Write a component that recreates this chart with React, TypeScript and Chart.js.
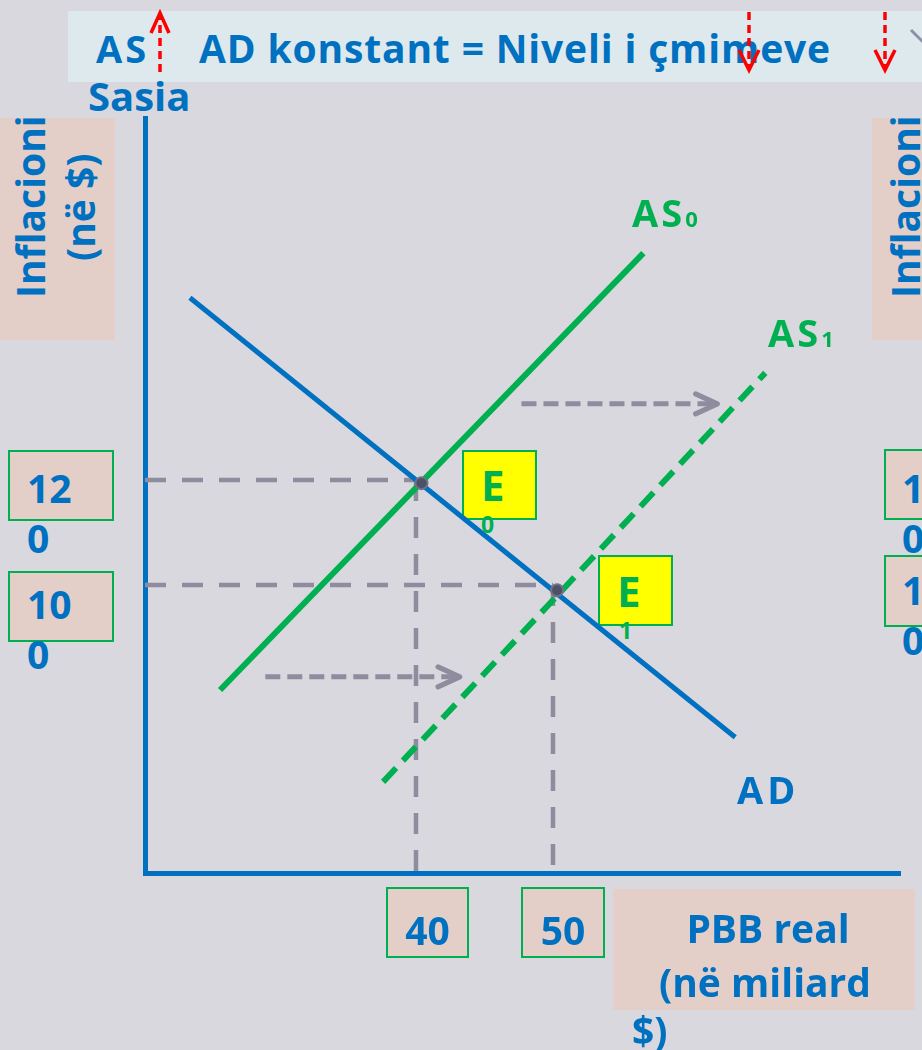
import React, { useEffect, useRef } from "react";
import { Chart, registerables } from "chart.js";

Chart.register(...registerables);

// ---- Data (price level vs. real GDP) ----
const EQ_GDP = [40, 50]; // equilibrium real GDP, billion $
const EQ_PRICE = [120, 100]; // equilibrium price level
const EQ_POINT_X = [40.4, 50.3];
const EQ_POINT_Y = [119.4, 99.0];
const AD_X = [23.5, 63.3];
const AD_Y = [154.7, 71.0];
const AS0_X = [25.7, 56.6];
const AS0_Y = [80.0, 163.2];
const AS1_X = [37.6, 65.5];
const AS1_Y = [62.5, 140.4];
const SHIFT_UPPER_X = [47.7, 62.0];
const SHIFT_UPPER_Y = [134.5, 134.5];
const SHIFT_LOWER_X = [29.0, 43.2];
const SHIFT_LOWER_Y = [82.5, 82.5];
const X_MIN = 20.22;
const X_MAX = 75.33;
const Y_MIN = 45.14;
const Y_MAX = 188.95;
const X_TICK_LABELS = ["40", "50"];
const Y_TICK_LABELS = ["120", "100"];

const BLUE = "#0070c0";
const GREEN = "#00b050";
const GUIDE = "#8f8c9f";
const PINK = "#e3cfc8";
const FONT = "'Open Sans', Lato, sans-serif";

const zip = (xs: number[], ys: number[]) => xs.map((x, i) => ({ x, y: ys[i] }));

const arrowPlugin = {
  id: "arrowHeads",
  afterDatasetsDraw(chart: any) {
    const ctx = chart.ctx;
    chart.data.datasets.forEach((ds: any, i: number) => {
      if (!ds.arrowHead) return;
      const pts = chart.getDatasetMeta(i).data;
      const a = pts[pts.length - 2];
      const b = pts[pts.length - 1];
      const ang = Math.atan2(b.y - a.y, b.x - a.x);
      const L = 24;
      const th = 0.43;
      ctx.save();
      ctx.strokeStyle = ds.borderColor;
      ctx.lineWidth = 5;
      ctx.lineCap = "round";
      ctx.lineJoin = "round";
      ctx.setLineDash([]);
      ctx.beginPath();
      ctx.moveTo(b.x - L * Math.cos(ang - th), b.y - L * Math.sin(ang - th));
      ctx.lineTo(b.x, b.y);
      ctx.lineTo(b.x - L * Math.cos(ang + th), b.y - L * Math.sin(ang + th));
      ctx.stroke();
      ctx.restore();
    });
  },
};

const lineDs = (data: any[], color: string, width: number, dash: number[], order: number, extra: any = {}) => ({
  data,
  borderColor: color,
  borderWidth: width,
  borderDash: dash,
  pointRadius: 0,
  fill: false,
  tension: 0,
  clip: false,
  order,
  ...extra,
});

function EconChart() {
  const ref = useRef<HTMLCanvasElement | null>(null);
  useEffect(() => {
    if (!ref.current) return;
    const chart = new Chart(ref.current, {
      type: "line",
      data: {
        datasets: [
          {
            data: zip(EQ_POINT_X, EQ_POINT_Y),
            showLine: false,
            pointRadius: 6,
            pointBackgroundColor: "#4e5166",
            pointBorderColor: "#6f7286",
            pointBorderWidth: 2,
            clip: false,
            order: 0,
          } as any,
          lineDs(zip(AD_X, AD_Y), BLUE, 5, [], 1),
          lineDs(zip(AS0_X, AS0_Y), GREEN, 6, [], 1),
          lineDs(zip(AS1_X, AS1_Y), GREEN, 6, [19, 10], 1),
          lineDs([{ x: X_MIN, y: EQ_PRICE[0] }, { x: EQ_GDP[0], y: EQ_PRICE[0] }], GUIDE, 4.5, [21, 16], 2),
          lineDs([{ x: EQ_GDP[0], y: EQ_PRICE[0] }, { x: EQ_GDP[0], y: Y_MIN }], GUIDE, 4.5, [21, 16], 2),
          lineDs([{ x: X_MIN, y: EQ_PRICE[1] }, { x: EQ_GDP[1], y: EQ_PRICE[1] }], GUIDE, 4.5, [21, 16], 2),
          lineDs([{ x: EQ_GDP[1], y: EQ_PRICE[1] }, { x: EQ_GDP[1], y: Y_MIN }], GUIDE, 4.5, [21, 16], 2),
          lineDs(zip(SHIFT_UPPER_X, SHIFT_UPPER_Y), GUIDE, 5, [15, 7], 2, { arrowHead: true }),
          lineDs(zip(SHIFT_LOWER_X, SHIFT_LOWER_Y), GUIDE, 5, [15, 7], 2, { arrowHead: true }),
        ],
      },
      options: {
        animation: false,
        responsive: false,
        maintainAspectRatio: false,
        events: [],
        layout: { padding: { left: 145, top: 118, right: 22, bottom: 177 } },
        plugins: { legend: { display: false }, tooltip: { enabled: false } },
        scales: {
          x: {
            type: "linear",
            min: X_MIN,
            max: X_MAX,
            grid: { display: false, drawTicks: false },
            ticks: { display: false },
            border: { display: true, color: BLUE, width: 5 },
            afterFit: (s: any) => {
              s.height = 0;
            },
          },
          y: {
            type: "linear",
            min: Y_MIN,
            max: Y_MAX,
            grid: { display: false, drawTicks: false },
            ticks: { display: false },
            border: { display: true, color: BLUE, width: 5 },
            afterFit: (s: any) => {
              s.width = 0;
            },
          },
        },
      } as any,
      plugins: [arrowPlugin],
    });
    return () => chart.destroy();
  }, []);
  return (
    <canvas
      ref={ref}
      width={922}
      height={1050}
      style={{ position: "absolute", left: 0, top: 0, width: 922, height: 1050 }}
    />
  );
}

const abs = (o: React.CSSProperties): React.CSSProperties => ({ position: "absolute", ...o });
const txt = (fs: number, color: string, o: React.CSSProperties): React.CSSProperties =>
  abs({ fontSize: fs, lineHeight: `${fs}px`, color, fontWeight: 700, whiteSpace: "nowrap", ...o });

function TickBox({ left, top, w, h }: { left: number; top: number; w: number; h: number }) {
  return <div style={abs({ left, top, width: w, height: h, background: PINK, border: `2px solid ${GREEN}`, boxSizing: "border-box" })} />;
}

function WrappedTick({ left, top, label }: { left: number; top: number; label: string }) {
  return (
    <div
      style={abs({
        left,
        top,
        width: 52,
        fontSize: 39,
        lineHeight: "50px",
        color: BLUE,
        fontWeight: 700,
        wordBreak: "break-all",
      })}
    >
      {label}
    </div>
  );
}

function VerticalTitle({ left }: { left: number }) {
  return (
    <div
      style={abs({
        left,
        top: 107,
        height: 200,
        writingMode: "vertical-rl",
        transform: "rotate(180deg)",
        textAlign: "center",
        fontSize: 39,
        lineHeight: "50px",
        color: BLUE,
        fontWeight: 700,
        whiteSpace: "nowrap",
      })}
    >
      Inflacioni
      <br />
      (në $)
    </div>
  );
}

export default function App() {
  return (
    <div
      style={{
        position: "fixed",
        left: 0,
        top: 0,
        width: 922,
        height: 1050,
        overflow: "hidden",
        background: "#d9d8de",
        fontFamily: FONT,
      }}
    >
      {/* title banner */}
      <div style={abs({ left: 68, top: 11, width: 870, height: 71, background: "#dde9ed" })} />
      <div style={txt(38, BLUE, { left: 96, top: 29, letterSpacing: 3 })}>AS</div>
      <div style={txt(39, BLUE, { left: 199, top: 28, letterSpacing: 0.85 })}>AD konstant = Niveli i çmimeve</div>
      <div style={txt(40, BLUE, { left: 88, top: 76 })}>Sasia</div>

      {/* axis title boxes */}
      <div style={abs({ left: 0, top: 118, width: 115, height: 222, background: PINK })} />
      <VerticalTitle left={5} />
      <div style={abs({ left: 872, top: 118, width: 60, height: 222, background: PINK })} />
      <VerticalTitle left={880} />

      {/* price level ticks */}
      <TickBox left={8} top={450} w={106} h={71} />
      <WrappedTick left={27} top={463} label={Y_TICK_LABELS[0]} />
      <TickBox left={8} top={571} w={106} h={71} />
      <WrappedTick left={27} top={579} label={Y_TICK_LABELS[1]} />
      <TickBox left={884} top={449} w={60} h={71} />
      <WrappedTick left={902} top={463} label={Y_TICK_LABELS[0]} />
      <TickBox left={884} top={555} w={60} h={72} />
      <WrappedTick left={902} top={565} label={Y_TICK_LABELS[1]} />

      {/* equilibrium labels */}
      <div style={abs({ left: 462, top: 450, width: 75, height: 70, background: "#ffff00", border: `2px solid ${GREEN}`, boxSizing: "border-box" })} />
      <div style={txt(42, GREEN, { left: 481, top: 464 })}>E</div>
      <div style={txt(23, GREEN, { left: 481, top: 513 })}>0</div>
      <div style={abs({ left: 598, top: 555, width: 75, height: 71, background: "#ffff00", border: `2px solid ${GREEN}`, boxSizing: "border-box" })} />
      <div style={txt(42, GREEN, { left: 617, top: 570 })}>E</div>
      <div style={txt(23, GREEN, { left: 619, top: 619 })}>1</div>

      <EconChart />

      {/* curve labels */}
      <div style={txt(38, GREEN, { left: 632, top: 193, letterSpacing: 3 })}>
        AS<span style={{ fontSize: 22, letterSpacing: 0 }}>0</span>
      </div>
      <div style={txt(38, GREEN, { left: 768, top: 313, letterSpacing: 3 })}>
        AS<span style={{ fontSize: 22, letterSpacing: 0 }}>1</span>
      </div>
      <div style={txt(38, BLUE, { left: 737, top: 770, letterSpacing: 4 })}>AD</div>

      {/* GDP ticks */}
      <TickBox left={386} top={887} w={83} h={71} />
      <div style={txt(39, BLUE, { left: 386, top: 910, width: 83, textAlign: "center" })}>{X_TICK_LABELS[0]}</div>
      <TickBox left={521} top={887} w={84} h={71} />
      <div style={txt(39, BLUE, { left: 521, top: 910, width: 84, textAlign: "center" })}>{X_TICK_LABELS[1]}</div>

      {/* x axis title */}
      <div style={abs({ left: 613, top: 889, width: 302, height: 121, background: PINK })} />
      <div style={txt(39, BLUE, { left: 613, top: 908, width: 310, textAlign: "center" })}>PBB real</div>
      <div style={txt(39, BLUE, { left: 613, top: 962, width: 304, textAlign: "center" })}>(në miliard</div>
      <div style={txt(39, BLUE, { left: 632, top: 1010 })}>$)</div>

      {/* decorative arrows in title */}
      <svg width={922} height={1050} style={abs({ left: 0, top: 0, pointerEvents: "none" })}>
        <g stroke="#ff0000" strokeWidth={3.5} fill="none" strokeLinecap="butt">
          <line x1={160} y1={72} x2={160} y2={14} strokeDasharray="8 5" />
          <polyline points="151,33 160,13 169,33" strokeLinejoin="miter" />
          <line x1={749} y1={12} x2={749} y2={68} strokeDasharray="8 5" />
          <polyline points="739,50 749,70 759,50" />
          <line x1={885} y1={12} x2={885} y2={68} strokeDasharray="8 5" />
          <polyline points="875,50 885,70 895,50" />
        </g>
        <line x1={911} y1={30} x2={924} y2={43} stroke="#8d8fa8" strokeWidth={3} />
      </svg>
    </div>
  );
}
